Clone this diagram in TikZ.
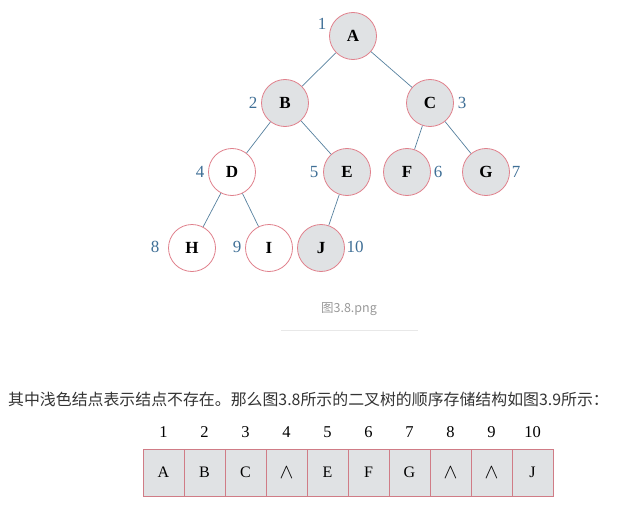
\documentclass[tikz,border=0pt]{standalone}
\usepackage{fontspec}
\setmainfont{Liberation Serif}
\newfontfamily\cjk{Noto Sans CJK SC}
\definecolor{ring}{HTML}{E0808C}
\definecolor{shade}{HTML}{E0E2E4}
\definecolor{numblue}{HTML}{3F6F96}
\definecolor{edgeblue}{HTML}{56809E}
\definecolor{cellline}{HTML}{D07C86}

\begin{document}
\begin{tikzpicture}[x=1pt,y=-1pt,
  vtx/.style={circle,draw=ring,fill=shade,line width=0.8pt,minimum size=47pt,inner sep=0pt,font=\fontsize{17}{17}\selectfont\bfseries},
  hole/.style={vtx,fill=white},
  num/.style={text=numblue,font=\fontsize{17}{17}\selectfont,inner sep=0pt},
  edge/.style={edgeblue,line width=0.7pt},
  cell/.style={draw=cellline,fill=shade,line width=0.8pt,minimum width=41pt,minimum height=47pt,inner sep=0pt,font=\fontsize{16}{16}\selectfont},
  idx/.style={font=\fontsize{16.5}{16.5}\selectfont,inner sep=0pt}]
\useasboundingbox (0,0) rectangle (627,511);

% the tree
\node[vtx]  (A) at (353,36)  {A};
\node[vtx]  (B) at (285,103) {B};
\node[vtx]  (C) at (430,103) {C};
\node[hole] (D) at (232,172) {D};
\node[vtx]  (E) at (347,172) {E};
\node[vtx]  (F) at (407,172) {F};
\node[vtx]  (G) at (486,172) {G};
\node[hole] (H) at (192,248) {H};
\node[hole] (I) at (269,248) {I};
\node[vtx]  (J) at (321,248) {J};

\draw[edge] (A) -- (B) (A) -- (C);
\draw[edge] (B) -- (D) (B) -- (E);
\draw[edge] (C) -- (F) (C) -- (G);
\draw[edge] (D) -- (H) (D) -- (I);
\draw[edge] (E) -- (J);

% numbering of the nodes
\node[num] (nA) at (322,24)  {1};
\node[num] (nB) at (253,103) {2};
\node[num] (nC) at (462,103) {3};
\node[num] (nD) at (200,172) {4};
\node[num] (nE) at (314,172) {5};
\node[num] (nF) at (438,172) {6};
\node[num] (nG) at (516,172) {7};
\node[num] (nH) at (155,247) {8};
\node[num] (nI) at (237,247) {9};
\node[num] (nJ) at (355,247) {10};

% caption
\node[text=black!40,font=\cjk\fontsize{12.5}{14}\selectfont] (cap) at (349,309) {图3.8.png};
\draw[black!9,line width=0.8pt] (281,330) -- (418,330);

\node[anchor=west,inner sep=0pt,text=black!80,font=\cjk\fontsize{15.9}{18}\selectfont] (txt) at (8,399)
  {其中浅色结点表示结点不存在。那么图3.8所示的二叉树的顺序存储结构如图3.9所示：};

% sequential storage
\foreach \l [count=\i] in {A,B,C,{\fontsize{21}{21}\selectfont$\wedge$},E,F,G,{\fontsize{21}{21}\selectfont$\wedge$},{\fontsize{21}{21}\selectfont$\wedge$},J} {
  \node[cell] (c\i) at ({122.5+41*\i},472.5) {\l};
  \node[idx] (k\i) at ({122.5+41*\i},432) {\i};
}

\end{tikzpicture}
\end{document}
